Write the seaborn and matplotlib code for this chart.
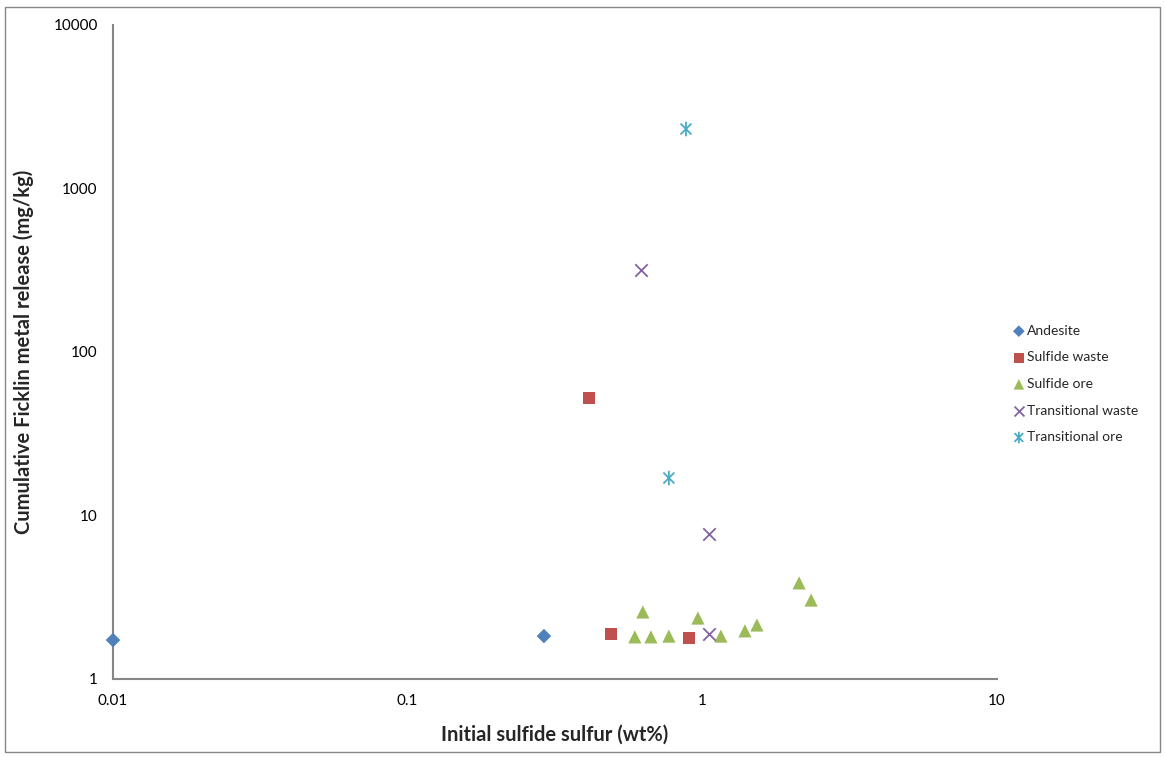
import numpy as np
import pandas as pd
import matplotlib
matplotlib.use("Agg")
import matplotlib.pyplot as plt
import seaborn as sns
from matplotlib.path import Path
from matplotlib.patches import Rectangle

# ---- data ----
andesite_x = [0.01, 0.29]
andesite_y = [1.73, 1.83]
sulf_waste_x = [0.412, 0.49, 0.90]
sulf_waste_y = [52.3, 1.88, 1.78]
sulf_ore_x = [0.59, 0.628, 0.669, 0.770, 0.966, 1.156, 1.395, 1.532, 2.13, 2.34]
sulf_ore_y = [1.81, 2.57, 1.81, 1.83, 2.36, 1.83, 1.97, 2.14, 3.87, 3.04]
trans_waste_x = [0.619, 1.053, 1.053]
trans_waste_y = [317, 7.7, 1.88]
trans_ore_x = [0.88, 0.770]
trans_ore_y = [2312, 16.96]

series_names = ["Andesite", "Sulfide waste", "Sulfide ore", "Transitional waste", "Transitional ore"]
series_x = [andesite_x, sulf_waste_x, sulf_ore_x, trans_waste_x, trans_ore_x]
series_y = [andesite_y, sulf_waste_y, sulf_ore_y, trans_waste_y, trans_ore_y]

x_ticks = [0.01, 0.1, 1, 10]
x_ticklabels = ["0.01", "0.1", "1", "10"]
y_ticks = [1, 10, 100, 1000, 10000]
y_ticklabels = ["1", "10", "100", "1000", "10000"]

df = pd.concat([pd.DataFrame({"x": xs, "y": ys, "group": n})
                for n, xs, ys in zip(series_names, series_x, series_y)], ignore_index=True)

# ---- style ----
sns.set_theme(style="white")
plt.rcParams["font.family"] = ["Lato", "DejaVu Sans"]

colors = ["#4F81BD", "#C0504D", "#9BBB59", "#8064A2", "#4BACC6"]
star = Path([(0, -1), (0, 1), (-0.75, -0.75), (0.75, 0.75), (-0.75, 0.75), (0.75, -0.75)],
            [Path.MOVETO, Path.LINETO, Path.MOVETO, Path.LINETO, Path.MOVETO, Path.LINETO])
markers = ["D", "s", "^", "x", star]
sizes = [55, 80, 90, 80, 110]
kinds = ["filled", "filled", "filled", "line", "path"]

fig = plt.figure(figsize=(11.65, 7.57), dpi=100)
ax = fig.add_axes([113 / 1165, 1 - 679 / 757, (997 - 113) / 1165, (679 - 25) / 757])

for name, c, m, s, k in zip(series_names, colors, markers, sizes, kinds):
    sub = df[df["group"] == name]
    if k == "filled":
        sns.scatterplot(data=sub, x="x", y="y", marker=m, color=c, s=s,
                        edgecolor="none", linewidth=0, ax=ax, label=name, clip_on=False, zorder=3)
    elif k == "line":
        sns.scatterplot(data=sub, x="x", y="y", marker=m, color=c, s=s,
                        linewidth=1.3, ax=ax, label=name, clip_on=False, zorder=3)
    else:
        sns.scatterplot(data=sub, x="x", y="y", marker=m, color=c, s=s,
                        edgecolor=c, facecolor="none", linewidth=1.3, ax=ax,
                        label=name, clip_on=False, zorder=3)

ax.set_xscale("log")
ax.set_yscale("log")
ax.set_xlim(0.01, 10)
ax.set_ylim(1, 10000)
ax.set_xticks(x_ticks)
ax.set_xticklabels(x_ticklabels)
ax.set_yticks(y_ticks)
ax.set_yticklabels(y_ticklabels)
ax.minorticks_off()

for side in ["top", "right"]:
    ax.spines[side].set_visible(False)
for side in ["left", "bottom"]:
    ax.spines[side].set_color("#868686")
    ax.spines[side].set_linewidth(1.5)
ax.tick_params(axis="both", which="major", direction="out", length=5, width=1,
               color="#868686", labelsize=11, labelcolor="black", pad=6)
ax.grid(False)

ax.set_xlabel("Initial sulfide sulfur (wt%)", fontsize=14.5, fontweight="bold", labelpad=12)
ax.set_ylabel("Cumulative Ficklin metal release (mg/kg)", fontsize=14.5, fontweight="bold", labelpad=14)

leg = ax.legend(loc="center left", bbox_to_anchor=(998 / 1165, 1 - 384 / 757),
                bbox_transform=fig.transFigure, frameon=False, fontsize=10,
                labelspacing=1.05, handletextpad=0.0, markerscale=0.8, handlelength=1.2)

fig.patches.append(Rectangle((5 / 1165, 5 / 757), 1155 / 1165, 745 / 757,
                             transform=fig.transFigure, fill=False,
                             edgecolor="#868686", linewidth=1))

fig.savefig("out.png", dpi=100)
